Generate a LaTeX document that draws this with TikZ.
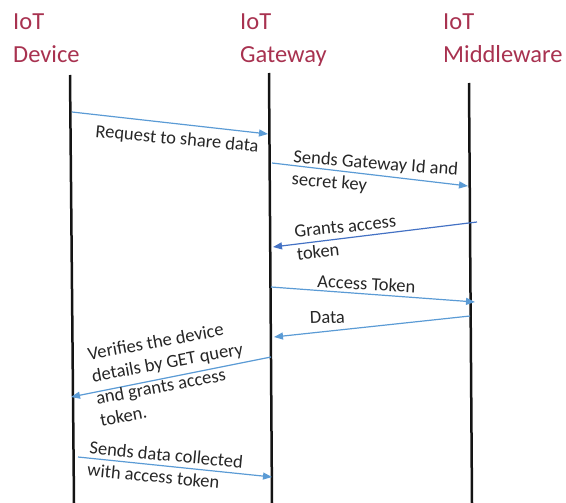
\documentclass[tikz,border=0pt]{standalone}
\usepackage{fontspec}
\setmainfont{Carlito}
\usetikzlibrary{arrows.meta}
\definecolor{hdrc}{RGB}{168,50,80}
\definecolor{txtc}{RGB}{38,38,38}
\definecolor{lifec}{RGB}{20,20,20}
\definecolor{arrc}{RGB}{91,155,213}
\definecolor{arrd}{RGB}{68,114,196}
\begin{document}
\begin{tikzpicture}[x=1pt,y=-1pt,
  hdr/.style={anchor=north west, inner sep=0pt, align=left, text=hdrc, font=\fontsize{24.5}{33}\selectfont},
  lbl/.style={inner sep=0pt, align=left, text=txtc, font=\fontsize{18.5}{22.5}\selectfont},
  life/.style={line width=2.5pt, draw=lifec},
  msg/.style={line width=1.2pt, draw=arrc, -{Triangle[length=9pt,width=7pt]}}]
\useasboundingbox (0,0) rectangle (566,503);
% headers
\node[hdr] (hdev) at (13,13.5) {IoT\\Device};
\node[hdr] (hgw) at (240,13.5) {IoT\\Gateway};
\node[hdr] (hmw) at (443,13.5) {IoT\\Middleware};
% lifelines
\coordinate (devT) at (70,75);  \coordinate (devB) at (74,503);
\coordinate (gwT) at (269,73);  \coordinate (gwB) at (272,503);
\coordinate (mwT) at (469,83);  \coordinate (mwB) at (472,503);
\draw[life] (devT) -- (devB);
\draw[life] (gwT) -- (gwB);
\draw[life] (mwT) -- (mwB);
% message end points
\coordinate (m1s) at (72,112);  \coordinate (m1e) at (268,134);
\coordinate (m2s) at (272,163); \coordinate (m2e) at (468,186);
\coordinate (m3s) at (477,222); \coordinate (m3e) at (273,247);
\coordinate (m4s) at (271,287); \coordinate (m4e) at (475,302);
\coordinate (m5s) at (470,316); \coordinate (m5e) at (274,337);
\coordinate (m6s) at (271,357); \coordinate (m6e) at (71,397);
\coordinate (m7s) at (78,457);  \coordinate (m7e) at (272,477);
\draw[msg] (m1s) -- (m1e);
\draw[msg] (m2s) -- (m2e);
\draw[msg, draw=arrd] (m3s) -- (m3e);
\draw[msg] (m4s) -- (m4e);
\draw[msg] (m5s) -- (m5e);
\draw[msg] (m6s) -- (m6e);
\draw[msg] (m7s) -- (m7e);
% labels
\node[lbl, anchor=base west, rotate=-5.3] (l1) at (95,137) {Request to share data};
\node[lbl, anchor=north west, rotate=-4.5] (l2) at (294,149.5) {Sends Gateway Id and\\secret key};
\node[lbl, anchor=north west, rotate=6] (l3) at (293.7,225.6) {Grants access\\token};
\node[lbl, anchor=base west, rotate=-3.1] (l4) at (317,287.3) {Access Token};
\node[lbl, anchor=base west, rotate=2] (l5) at (310,324) {Data};
\node[lbl, anchor=north west, rotate=10.5] (l6) at (86.5,347.5) {Verifies the device\\details by GET query\\and grants access\\token.};
\node[lbl, anchor=north west, rotate=-5.5] (l7) at (90.2,440.6) {Sends data collected\\with access token};
\end{tikzpicture}
\end{document}
